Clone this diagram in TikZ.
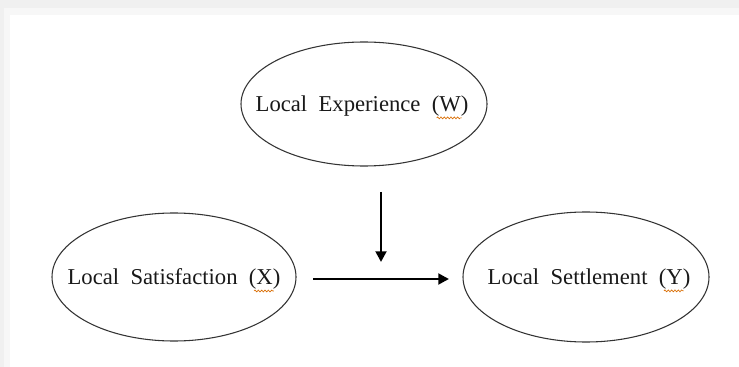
\documentclass[tikz,border=0pt]{standalone}
\usepackage{fontspec}
\setmainfont{Liberation Serif}
\usetikzlibrary{shapes.geometric,arrows.meta,decorations.pathmorphing}
\begin{document}
\begin{tikzpicture}[x=0.75pt,y=-0.75pt,
  oval/.style={draw=black!80,line width=0.8pt,ellipse,inner sep=0pt},
  txt/.style={inner sep=0pt,font=\fontsize{17}{20}\selectfont,text=black!90},
  conn/.style={line width=2pt,-{Triangle[length=8pt,width=8pt]}},
  squig/.style={draw=orange!85!black,line width=0.5pt,decorate,decoration={snake,amplitude=0.7pt,segment length=2.5pt}}]
\useasboundingbox (0,0) rectangle (739,367);
\fill[black!6] (0,0) rectangle (739,367);
\fill[black!3] (4,8) rectangle (739,367);
\fill[white] (10,15) rectangle (739,367);
\node[oval,minimum width=246*0.75pt,minimum height=124*0.75pt] (w) at (364,104) {};
\node[oval,minimum width=244*0.75pt,minimum height=128*0.75pt] (x) at (174,277) {};
\node[oval,minimum width=246*0.75pt,minimum height=130*0.75pt] (y) at (586,277) {};
\node[txt] (wt) at (362,106) {Local\ \ Experience\ \ (W)};
\node[txt] (xt) at (174,279) {Local\ \ Satisfaction\ \ (X)};
\node[txt] (yt) at (589,279) {Local\ \ Settlement\ \ (Y)};
\draw[squig] ([xshift=-24pt,yshift=-1pt]wt.south east) -- ([xshift=-5pt,yshift=-1pt]wt.south east);
\draw[squig] ([xshift=-20pt,yshift=-1pt]xt.south east) -- ([xshift=-5pt,yshift=-1pt]xt.south east);
\draw[squig] ([xshift=-20pt,yshift=-1pt]yt.south east) -- ([xshift=-5pt,yshift=-1pt]yt.south east);
\coordinate (vs) at (381,192);
\coordinate (ve) at (381,262);
\coordinate (hs) at (313,279);
\coordinate (he) at (449,279);
\draw[conn] (vs) -- (ve);
\draw[conn] (hs) -- (he);
\end{tikzpicture}
\end{document}
